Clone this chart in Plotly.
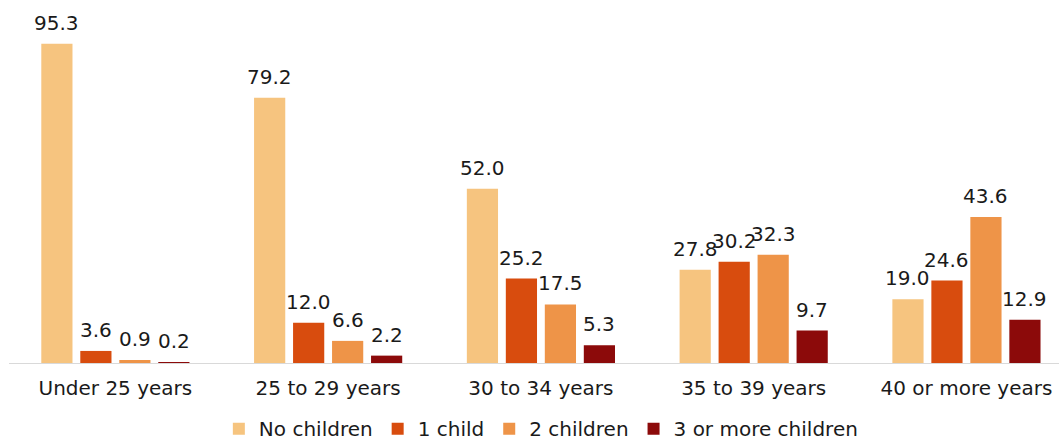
import plotly.graph_objects as go

categories = ["Under 25 years", "25 to 29 years", "30 to 34 years", "35 to 39 years", "40 or more years"]
series_names = ["No children", "1 child", "2 children", "3 or more children"]
no_children = [95.3, 79.2, 52.0, 27.8, 19.0]
one_child = [3.6, 12.0, 25.2, 30.2, 24.6]
two_children = [0.9, 6.6, 17.5, 32.3, 43.6]
three_plus = [0.2, 2.2, 5.3, 9.7, 12.9]
colors = ["#F6C47F", "#D84C0E", "#EE9448", "#8C0A0A"]

FONT = "DejaVu Sans, Liberation Sans, Arial"
bargap = 0.267
x_pos = list(range(len(categories)))
fig = go.Figure()
all_series = [no_children, one_child, two_children, three_plus]
for name, vals, col in zip(series_names, all_series, colors):
    fig.add_trace(go.Bar(
        x=x_pos, y=vals, name=name, marker_color=col, marker_line_width=0,
    ))

slot = (1 - bargap) / len(all_series)
annotations = []
for si, vals in enumerate(all_series):
    off = (si - (len(all_series) - 1) / 2) * slot
    for xi, v in zip(x_pos, vals):
        annotations.append(dict(
            x=xi + off, y=v, xref="x", yref="y", text=f"{v:.1f}", showarrow=False,
            yanchor="bottom", yshift=7, font=dict(family=FONT, size=20, color="#1a1a1a"),
        ))

fig.update_layout(
    width=1059, height=441,
    margin=dict(l=9, r=0, t=28, b=78, autoexpand=False),
    barmode="group", bargap=bargap, bargroupgap=0.2,
    plot_bgcolor="white", paper_bgcolor="white",
    font=dict(family=FONT, size=20, color="#1a1a1a"),
    showlegend=True,
    annotations=annotations,
    legend=dict(orientation="h", x=0.507, xanchor="center", y=-0.196,
                yanchor="middle", font=dict(size=20), itemwidth=30, traceorder="normal",
                tracegroupgap=0),
    xaxis=dict(range=[-0.5, 4.435], tickvals=x_pos, ticktext=categories, showgrid=False,
               showline=True, linecolor="#D9D9D9", linewidth=1, ticks="", zeroline=False,
               ticklabelstandoff=7),
    yaxis=dict(range=[0, 100], visible=False, showgrid=False, zeroline=False),
)
fig.write_html("out.html")
